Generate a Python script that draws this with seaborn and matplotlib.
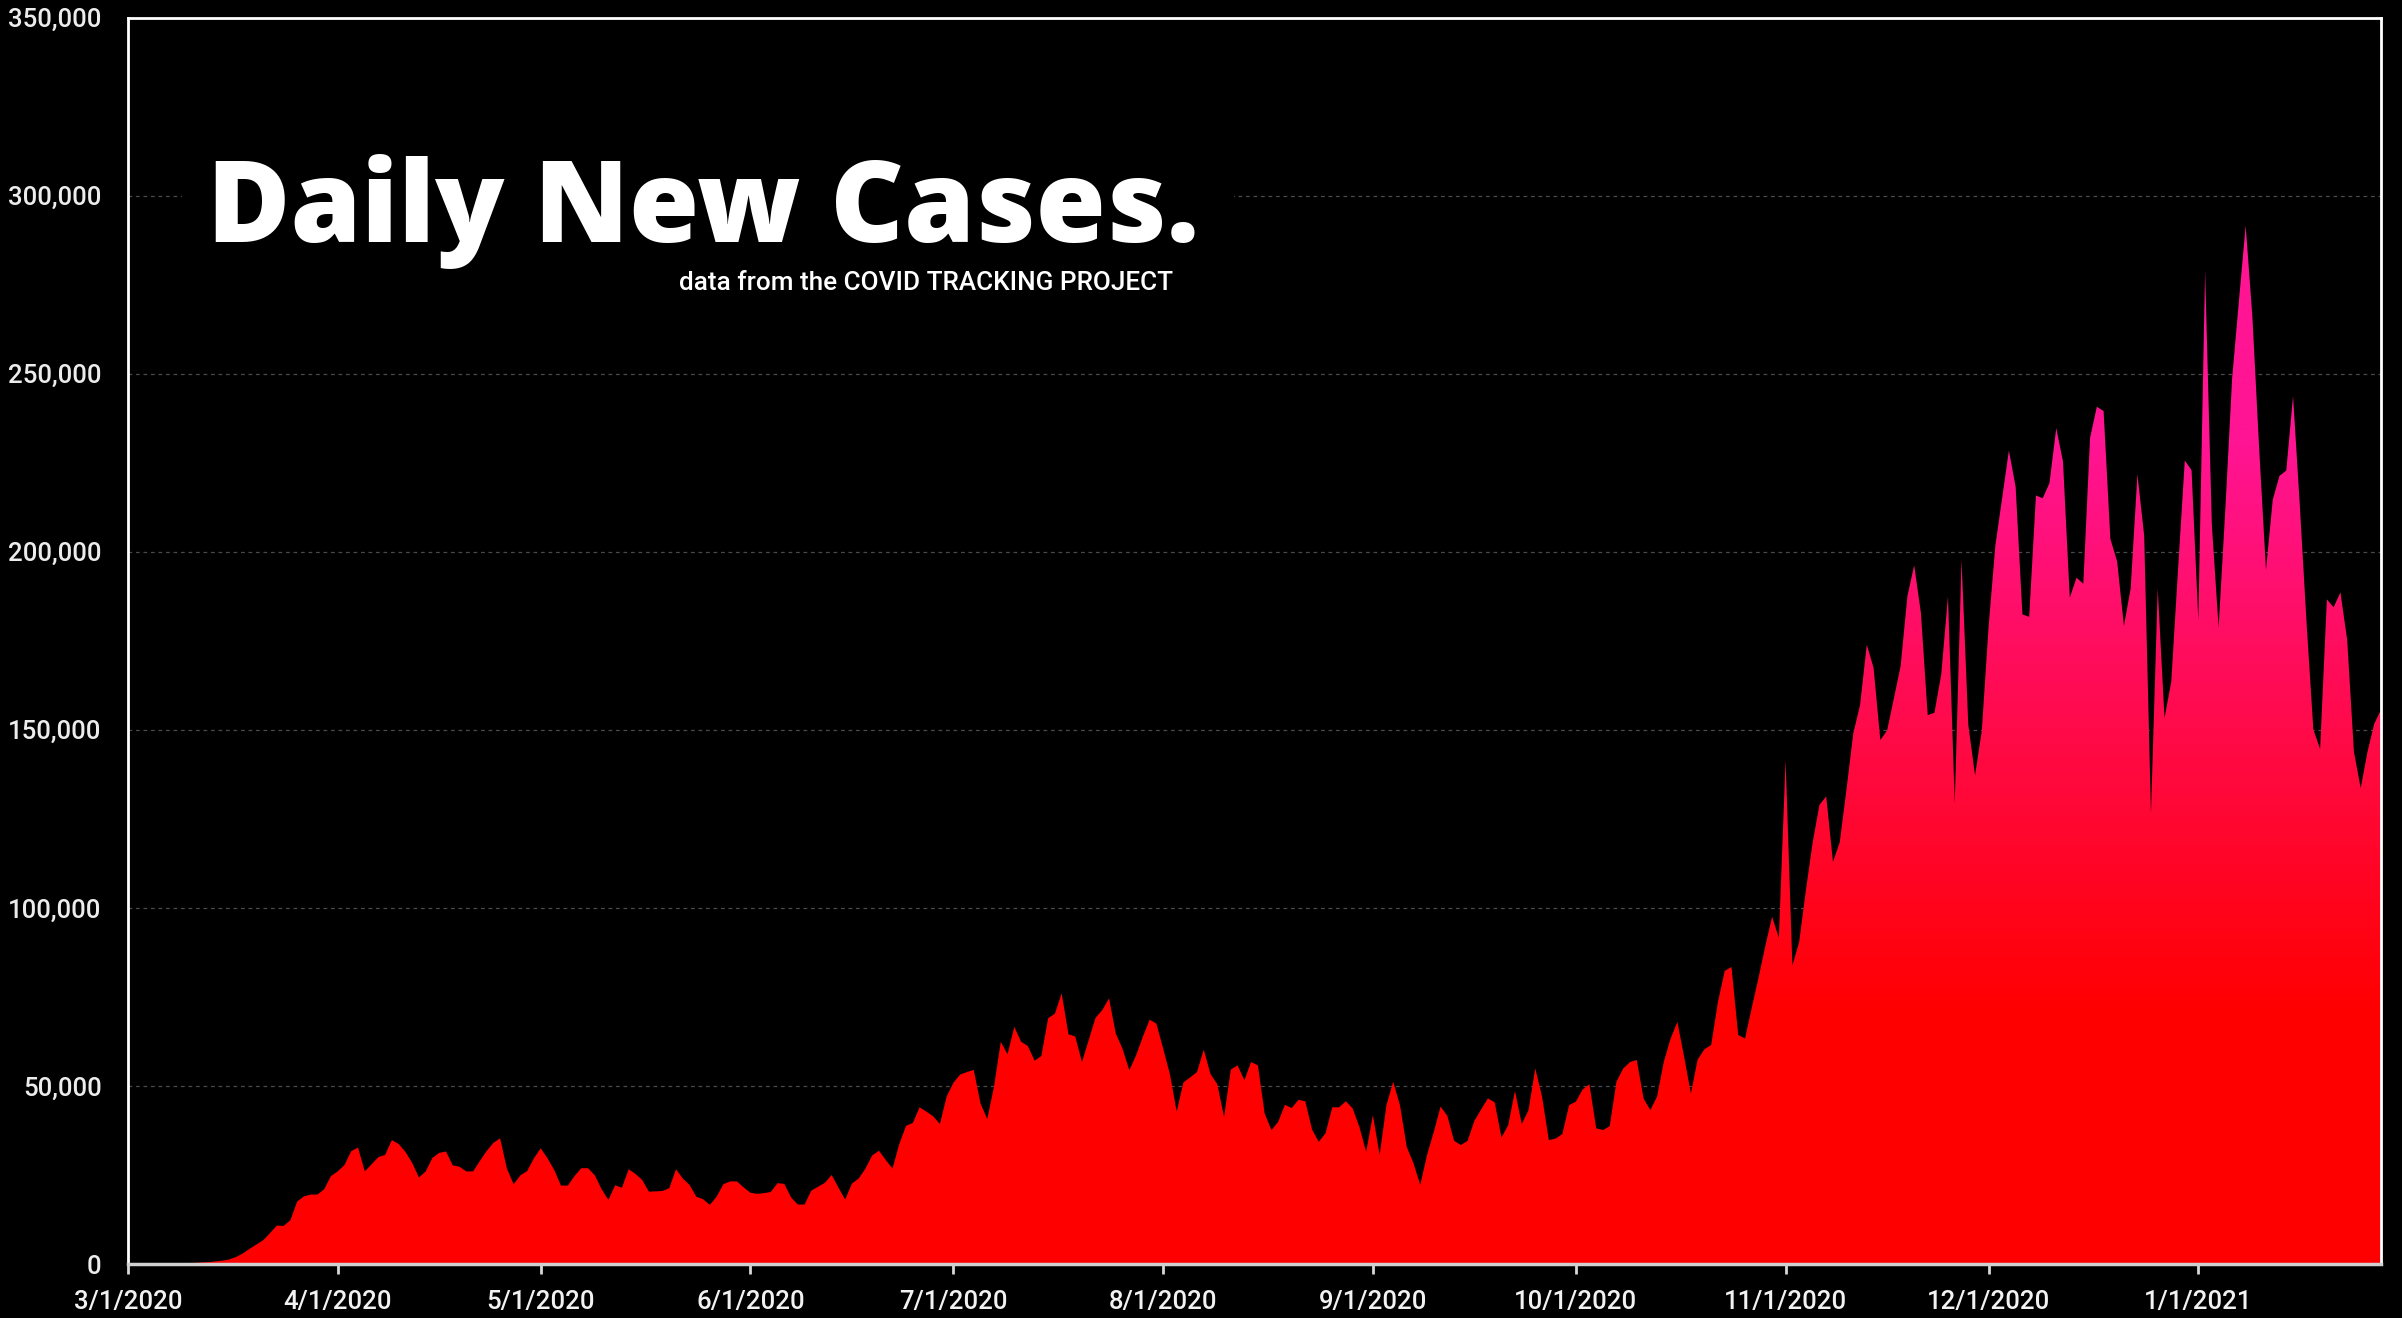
import numpy as np
import pandas as pd
import matplotlib
matplotlib.use("Agg")
import matplotlib.pyplot as plt
import matplotlib.dates as mdates
import seaborn as sns
from matplotlib.ticker import FuncFormatter
from matplotlib.patches import Rectangle
from matplotlib.colors import LinearSegmentedColormap

# Daily new positive cases (US), one list per month
mar_2020 = [5, 10, 20, 30, 50, 70, 100, 150, 200, 270, 330, 450, 550, 750, 950,
            1300, 2000, 3000, 4300, 5500, 6700, 8700, 10800, 10700, 12300, 17500,
            19000, 19500, 19500, 21000, 24700]
apr_2020 = [26000, 27800, 31700, 32700, 26000, 28000, 30000, 30600, 34800, 33700,
            31500, 28400, 24300, 26000, 29800, 31200, 31600, 27700, 27300, 26000,
            26000, 28900, 31700, 34000, 35300, 26800, 22400, 24900, 26100, 29700]
may_2020 = [32500, 29700, 26400, 22000, 22000, 24700, 26900, 26900, 24900, 21000,
            18000, 22100, 21400, 26600, 25300, 23600, 20300, 20400, 20500, 21300,
            26600, 24000, 22200, 18900, 18200, 16600, 18900, 22400, 23200, 23200,
            21500]
jun_2020 = [20000, 19700, 19900, 20200, 22700, 22500, 18700, 16700, 16700, 20600,
            21700, 22800, 25000, 21500, 18100, 22600, 24000, 26800, 30500, 31800,
            29200, 26800, 33700, 38800, 39600, 44000, 42800, 41500, 39300, 47000]
jul_2020 = [50900, 53200, 53900, 54500, 45100, 40700, 49800, 62400, 58900, 66600,
            62400, 61200, 57100, 58400, 69000, 70300, 76000, 64500, 63900, 56700,
            62900, 69100, 71300, 74600, 64700, 60400, 54400, 58600, 63800, 68600,
            67500]
aug_2020 = [60500, 53300, 42800, 51000, 52400, 53900, 60200, 53300, 50500, 41300,
            54600, 55800, 51600, 56700, 55800, 42300, 37600, 39900, 44700, 43800,
            46100, 45700, 37800, 34300, 36700, 44000, 44000, 45700, 43700, 38500,
            31500]
sep_2020 = [41800, 30600, 44600, 51200, 44600, 32900, 28300, 22200, 30600, 37100,
            44200, 41600, 34600, 33400, 34600, 40200, 43400, 46500, 45400, 35500,
            39000, 48600, 39300, 43200, 54900, 47000, 34800, 35200, 36500, 44600]
oct_2020 = [45600, 49000, 50500, 38100, 37600, 38700, 51200, 54900, 56700, 57300,
            46500, 43200, 47000, 56800, 63300, 68000, 58200, 47900, 57400, 60300,
            61500, 73600, 82300, 83400, 64300, 63300, 72000, 80400, 89300, 97500,
            91600]
nov_2020 = [141500, 83800, 90400, 105000, 118400, 128900, 131300, 112900, 118400,
            133300, 149000, 156900, 173900, 167400, 147100, 149800, 158800, 167900,
            187500, 196200, 182800, 154100, 154800, 165500, 187500, 129400, 197800,
            151400, 137200, 149800]
dec_2020 = [178900, 201700, 215000, 228400, 218200, 182400, 181700, 215800, 215000,
            219300, 234700, 225300, 187100, 192700, 191000, 232000, 240700, 239500,
            203600, 197300, 179200, 189700, 221700, 204400, 126500, 189700, 153300,
            163500, 194900, 225600, 222900]
jan_2021 = [180800, 279000, 207500, 178700, 212200, 248800, 270400, 291600, 265700,
            228700, 194900, 214600, 221300, 222800, 243700, 213000, 180000, 150100,
            144600, 186600, 184400, 188600, 175300, 143800, 133600, 143800, 151700,
            155600]

monthly = [mar_2020, apr_2020, may_2020, jun_2020, jul_2020, aug_2020, sep_2020,
           oct_2020, nov_2020, dec_2020, jan_2021]
cases = np.concatenate([np.asarray(m, dtype=float) for m in monthly])
dates = pd.date_range("2020-03-01", periods=len(cases), freq="D")
df = pd.DataFrame({"date": dates, "cases": cases})

y_ticks = [0, 50000, 100000, 150000, 200000, 250000, 300000, 350000]

title_text = "Daily New Cases."
subtitle_text = "data from the COVID TRACKING PROJECT"

W, H = 2402, 1318
sns.set_theme(style="dark")
plt.rcParams["font.family"] = ["Roboto", "DejaVu Sans"]

fig = plt.figure(figsize=(W / 100, H / 100), dpi=100, facecolor="black")
ax = fig.add_axes([128 / W, 1 - 1264 / H, (2381 - 128) / W, (1264 - 17.5) / H])
ax.set_facecolor("black")

# Outline of the series (kept invisible; the gradient area carries the colour)
sns.lineplot(data=df, x="date", y="cases", ax=ax, color="#ff0000",
             linewidth=0.0, zorder=3)

xs = mdates.date2num(df["date"])
ys = df["cases"].to_numpy()

# Area under the curve, filled with a vertical red-to-pink gradient
area = ax.fill_between(xs, 0, ys, facecolor="none", edgecolor="none", zorder=2)
heat = LinearSegmentedColormap.from_list(
    "heat",
    [(0.0, "#ff0000"), (70000 / 350000, "#ff0000"),
     (230000 / 350000, "#ff1493"), (1.0, "#ff1493")])
grad = np.linspace(0, 350000, 1400).reshape(-1, 1)
img = ax.imshow(grad, extent=[xs[0], xs[-1], 0, 350000], origin="lower",
                aspect="auto", cmap=heat, vmin=0, vmax=350000, zorder=2,
                interpolation="bilinear")
img.set_clip_path(area.get_paths()[0], transform=ax.transData)

ax.set_xlim(xs[0], xs[-1])
ax.set_ylim(0, 350000)

ax.xaxis.set_major_locator(mdates.MonthLocator(bymonthday=1))
ax.xaxis.set_major_formatter(FuncFormatter(
    lambda v, pos: (lambda d: f"{d.month}/{d.day}/{d.year}")(mdates.num2date(v))))
ax.set_yticks(y_ticks)
ax.yaxis.set_major_formatter(FuncFormatter(lambda v, pos: f"{v:,.0f}"))

ax.set_xlabel("")
ax.set_ylabel("")

ax.grid(axis="y", color="#4a4a4a", linestyle=(0, (3, 3)), linewidth=0.9)
ax.grid(axis="x", visible=False)
ax.set_axisbelow(True)

ax.tick_params(axis="x", colors="#d8d8d8", labelcolor="#f2f2f2", length=7,
               width=2, direction="out", pad=12, labelsize=18.5)
ax.tick_params(axis="y", length=0, labelcolor="#ececec", pad=19, labelsize=18.5)
ax.tick_params(bottom=True, left=False)
for lab in ax.get_xticklabels() + ax.get_yticklabels():
    lab.set_fontweight("medium")

for side, spine in ax.spines.items():
    spine.set_visible(True)
    spine.set_color("#ffffff")
    spine.set_linewidth(2)
ax.spines["bottom"].set_color("#d0d0d0")
ax.spines["bottom"].set_linewidth(2.5)

# Black panel behind the heading
fig.add_artist(Rectangle((182 / W, 1 - 330 / H), (1234 - 182) / W, (330 - 110) / H,
                         transform=fig.transFigure, facecolor="black",
                         edgecolor="none", zorder=1))

fig.text(207 / W, 1 - 242 / H, title_text, color="white", fontsize=82,
         fontweight="heavy", family=["Open Sans", "DejaVu Sans"],
         ha="left", va="baseline", zorder=3)
fig.text(1173 / W, 1 - 290 / H, subtitle_text, color="white", fontsize=18.8,
         fontweight="medium", ha="right", va="baseline", zorder=3)

fig.savefig("out.png", dpi=100, facecolor="black")
